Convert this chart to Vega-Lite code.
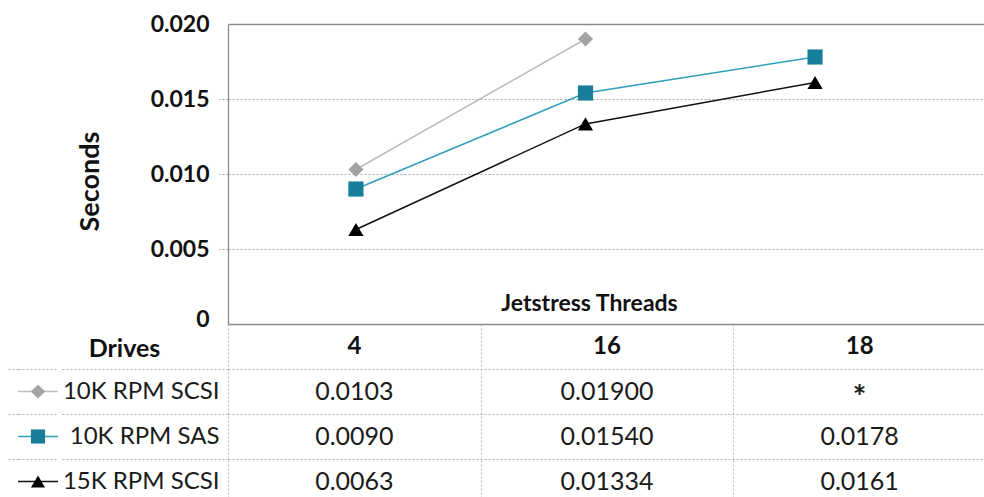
{
  "$schema": "https://vega.github.io/schema/vega-lite/v6.json",
  "padding": {"left": 0, "top": 12, "right": 0, "bottom": 0},
  "autosize": {"type": "pad"},
  "background": "white",
  "config": {
    "font": "Lato",
    "view": {"stroke": null},
    "text": {"font": "Lato"}
  },
  "datasets": {
    "times": [
      {"drive": "10K RPM SCSI", "threads": 4, "seconds": 0.0103, "cell": "0.0103"},
      {"drive": "10K RPM SCSI", "threads": 16, "seconds": 0.019, "cell": "0.01900"},
      {"drive": "10K RPM SCSI", "threads": 18, "seconds": null, "cell": "*"},
      {"drive": "10K RPM SAS", "threads": 4, "seconds": 0.009, "cell": "0.0090"},
      {"drive": "10K RPM SAS", "threads": 16, "seconds": 0.0154, "cell": "0.01540"},
      {"drive": "10K RPM SAS", "threads": 18, "seconds": 0.0178, "cell": "0.0178"},
      {"drive": "15K RPM SCSI", "threads": 4, "seconds": 0.0063, "cell": "0.0063"},
      {"drive": "15K RPM SCSI", "threads": 16, "seconds": 0.01334, "cell": "0.01334"},
      {"drive": "15K RPM SCSI", "threads": 18, "seconds": 0.0161, "cell": "0.0161"}
    ]
  },
  "spacing": 0,
  "hconcat": [
    {
      "width": 40,
      "height": 480,
      "data": {"name": "times"},
      "transform": [{"filter": "datum.threads === 4"}],
      "encoding": {
        "y": {
          "field": "drive",
          "type": "nominal",
          "scale": {"type": "band", "domain": ["Drives", "10K RPM SCSI", "10K RPM SAS", "15K RPM SCSI"], "paddingInner": 0, "paddingOuter": 0, "range": [300, 480]},
          "axis": {
            "labels": false,
            "domain": false,
            "title": null,
            "tickBand": "extent",
            "tickSize": 10,
            "tickColor": "#b0b0b0",
            "tickDash": [2, 2],
            "tickOpacity": {"condition": {"test": "!!datum.extra", "value": 0}, "value": 1},
            "grid": true,
            "gridColor": "#b0b0b0",
            "gridDash": [2, 2],
            "gridOpacity": {"condition": {"test": "!!datum.extra", "value": 0}, "value": 1},
            "minExtent": 18,
            "maxExtent": 18
          }
        }
      },
      "layer": [
        {
          "mark": {"type": "rule", "strokeWidth": 1.5},
          "encoding": {
            "stroke": {"field": "drive", "type": "nominal", "legend": null}
          }
        },
        {
          "mark": {"type": "point", "filled": true, "size": 200, "opacity": 1},
          "encoding": {
            "fill": {"field": "drive", "type": "nominal", "legend": null},
            "shape": {"field": "drive", "type": "nominal", "legend": null}
          }
        }
      ]
    },
    {
      "width": 758,
      "height": 480,
      "data": {"name": "times"},
      "resolve": {
        "scale": {"x": "independent", "y": "independent"},
        "axis": {"x": "independent", "y": "independent"}
      },
      "layer": [
        {
          "encoding": {
            "x": {
              "field": "threads",
              "type": "ordinal",
              "sort": [4, 16, 18],
              "scale": {"type": "point", "domain": [4, 16, 18], "padding": 0.651, "align": 0.428},
              "axis": {
                "orient": "top",
                "labels": false,
                "ticks": false,
                "domain": false,
                "grid": false,
                "title": "Jetstress Threads",
                "titleFont": "Lato",
                "titleFontSize": 23,
                "titleFontWeight": "bold",
                "titleColor": "#111111",
                "titleX": 361,
                "titleY": 279,
                "titleAlign": "center",
                "titleBaseline": "middle"
              }
            },
            "y": {
              "field": "seconds",
              "type": "quantitative",
              "scale": {"domain": [0, 0.02], "range": [300, 0], "nice": false, "zero": true},
              "axis": {
                "orient": "left",
                "values": [0, 0.005, 0.01, 0.015, 0.02],
                "labelExpr": "datum.value === 0 ? '0' : format(datum.value, '.3f')",
                "labelFont": "Lato",
                "labelFontSize": 23,
                "labelFontWeight": "bold",
                "labelColor": "#111111",
                "labelPadding": 10,
                "labelBaseline": {"condition": {"test": "datum.value === 0", "value": "alphabetic"}, "value": "middle"},
                "labelOffset": {"condition": {"test": "datum.value === 0", "value": 2}, "value": 0},
                "tickSize": 9,
                "tickColor": "#9a9a9a",
                "tickDash": [2, 2],
                "tickOpacity": {"condition": {"test": "datum.value === 0 || datum.value === 0.02", "value": 0}, "value": 1},
                "grid": true,
                "gridColor": {"condition": {"test": "datum.value === 0 || datum.value === 0.02", "value": "#8c8c8c"}, "value": "#a8a8a8"},
                "gridDash": {"condition": {"test": "datum.value === 0 || datum.value === 0.02", "value": []}, "value": [2, 2]},
                "gridWidth": {"condition": {"test": "datum.value === 0 || datum.value === 0.02", "value": 1.3}, "value": 1},
                "domain": true,
                "domainColor": "#8c8c8c",
                "domainWidth": 1.3,
                "title": "Seconds",
                "titleFont": "Lato",
                "titleFontSize": 27,
                "titleFontWeight": "bold",
                "titleColor": "#111111",
                "titleAngle": -90,
                "titleX": -124,
                "titleY": 157,
                "titleAlign": "center",
                "titleBaseline": "bottom",
                "minExtent": 168,
                "maxExtent": 168
              }
            }
          },
          "layer": [
            {
              "mark": {"type": "line", "strokeWidth": 1.5},
              "encoding": {
                "stroke": {
                  "field": "drive",
                  "type": "nominal",
                  "scale": {"domain": ["10K RPM SCSI", "10K RPM SAS", "15K RPM SCSI"], "range": ["#bcbcbc", "#2e9fba", "#111111"]},
                  "legend": null
                }
              }
            },
            {
              "mark": {"type": "point", "filled": true, "size": 230, "opacity": 1},
              "encoding": {
                "fill": {
                  "field": "drive",
                  "type": "nominal",
                  "scale": {"domain": ["10K RPM SCSI", "10K RPM SAS", "15K RPM SCSI"], "range": ["#a3a3a3", "#177f9a", "#000000"]},
                  "legend": null
                },
                "shape": {
                  "field": "drive",
                  "type": "nominal",
                  "scale": {"domain": ["10K RPM SCSI", "10K RPM SAS", "15K RPM SCSI"], "range": ["diamond", "square", "triangle-up"]},
                  "legend": null
                }
              }
            }
          ]
        },
        {
          "encoding": {
            "x": {
              "field": "threads",
              "type": "ordinal",
              "scale": {"type": "band", "domain": [4, 16, 18], "paddingInner": 0, "paddingOuter": 0},
              "axis": {
                "orient": "top",
                "labels": false,
                "ticks": false,
                "domain": false,
                "title": null,
                "tickBand": "extent",
                "grid": true,
                "gridColor": "#b8bccb",
                "gridDash": [2, 2]
              }
            },
            "y": {
              "field": "drive",
              "type": "nominal",
              "scale": {"type": "band", "domain": ["Drives", "10K RPM SCSI", "10K RPM SAS", "15K RPM SCSI"], "paddingInner": 0, "paddingOuter": 0, "range": [300, 480]},
              "axis": {
                "orient": "left",
                "tickBand": "extent",
                "tickSize": 168,
                "tickColor": "#b0b0b0",
                "tickDash": [2, 2],
                "tickOpacity": {"condition": {"test": "!!datum.extra", "value": 0}, "value": 1},
                "grid": true,
                "gridColor": "#b0b0b0",
                "gridDash": [2, 2],
                "gridOpacity": {"condition": {"test": "!!datum.extra", "value": 0}, "value": 1},
                "labelExpr": "datum.value === 'Drives' ? '' : datum.value",
                "labelPadding": -159,
                "labelFont": "Lato",
                "labelFontSize": 24,
                "labelColor": "#1a1a1a",
                "labelAlign": "right",
                "labelBaseline": "middle",
                "domain": false,
                "title": "Drives",
                "titleFont": "Lato",
                "titleFontSize": 25,
                "titleFontWeight": "bold",
                "titleColor": "#111111",
                "titleAngle": 0,
                "titleX": -104,
                "titleY": 324,
                "titleAlign": "center",
                "titleBaseline": "middle",
                "minExtent": 168,
                "maxExtent": 168
              }
            }
          },
          "layer": [
            {
              "transform": [{"filter": "datum.cell !== '*'"}],
              "mark": {"type": "text", "fontSize": 25, "color": "#1a1a1a"},
              "encoding": {"text": {"field": "cell", "type": "nominal"}}
            },
            {
              "transform": [{"filter": "datum.cell === '*'"}],
              "mark": {"type": "text", "fontSize": 32, "fontWeight": "bold", "dy": 7, "color": "#1a1a1a"},
              "encoding": {"text": {"field": "cell", "type": "nominal"}}
            },
            {
              "transform": [{"filter": "datum.drive === '10K RPM SAS'"}],
              "mark": {"type": "text", "fontSize": 24, "fontWeight": "bold", "color": "#111111"},
              "encoding": {
                "y": {"datum": "Drives"},
                "text": {"field": "threads", "type": "ordinal"}
              }
            }
          ]
        }
      ]
    }
  ]
}
